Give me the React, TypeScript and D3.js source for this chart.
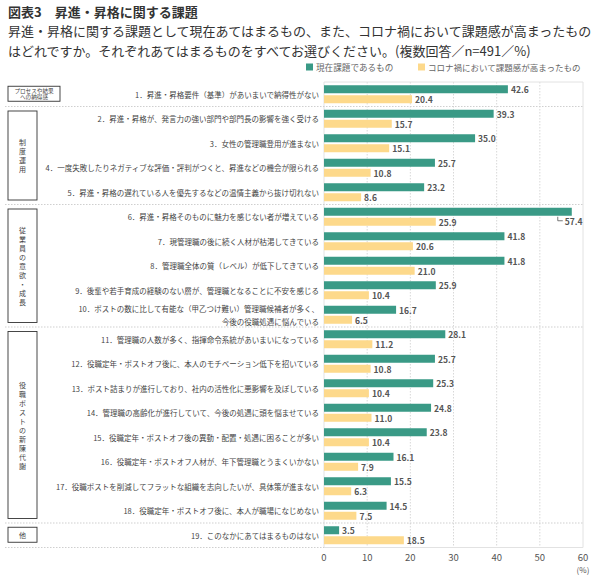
import React from "react";
import * as d3 from "d3";

const titleText = "図表3　昇進・昇格に関する課題";
const subtitleLines = [
  "昇進・昇格に関する課題として現在あてはまるもの、また、コロナ禍において課題感が高まったもの",
  "はどれですか。それぞれあてはまるものをすべてお選びください。(複数回答／n=491／%)",
];
const seriesNames = ["現在課題であるもの", "コロナ禍において課題感が高まったもの"];
const categories = [
  "1．昇進・昇格要件（基準）があいまいで納得性がない",
  "2．昇進・昇格が、発言力の強い部門や部門長の影響を強く受ける",
  "3．女性の管理職登用が進まない",
  "4．一度失敗したりネガティブな評価・評判がつくと、昇進などの機会が限られる",
  "5．昇進・昇格の遅れている人を優先するなどの温情主義から抜け切れない",
  "6．昇進・昇格そのものに魅力を感じない者が増えている",
  "7．現管理職の後に続く人材が枯渇してきている",
  "8．管理職全体の質（レベル）が低下してきている",
  "9．後輩や若手育成の経験のない層が、管理職となることに不安を感じる",
  "10．ポストの数に比して有能な（甲乙つけ難い）管理職候補者が多く、\n今後の役職処遇に悩んでいる",
  "11．管理職の人数が多く、指揮命令系統があいまいになっている",
  "12．役職定年・ポストオフ後に、本人のモチベーション低下を招いている",
  "13．ポスト詰まりが進行しており、社内の活性化に悪影響を及ぼしている",
  "14．管理職の高齢化が進行していて、今後の処遇に頭を悩ませている",
  "15．役職定年・ポストオフ後の異動・配置・処遇に困ることが多い",
  "16．役職定年・ポストオフ人材が、年下管理職とうまくいかない",
  "17．役職ポストを削減してフラットな組織を志向したいが、具体策が進まない",
  "18．役職定年・ポストオフ後に、本人が職場になじめない",
  "19．このなかにあてはまるものはない",
];
const currentValues = [42.6, 39.3, 35.0, 25.7, 23.2, 57.4, 41.8, 41.8, 25.9, 16.7, 28.1, 25.7, 25.3, 24.8, 23.8, 16.1, 15.5, 14.5, 3.5];
const coronaValues = [20.4, 15.7, 15.1, 10.8, 8.6, 25.9, 20.6, 21.0, 10.4, 6.5, 11.2, 10.8, 10.4, 11.0, 10.4, 7.9, 6.3, 7.5, 18.5];
const groupNames = ["プロセスや結果\nへの納得感", "制度運用", "従業員の意欲・成長", "役職ポストの新陳代謝", "他"];
const groupSizes = [1, 4, 5, 8, 1];
const groupVertical = [false, true, true, true, false];
const xTicks = [0, 10, 20, 30, 40, 50, 60];

const COLORS = ["#3a9a86", "#fdd98b"];
const FONT = "'Noto Sans CJK JP', 'Noto Sans', sans-serif";

export default function App() {
  const W = 600, H = 580;
  const plotLeft = 324, plotRight = 583, plotTop = 82, plotBottom = 547.5;
  const x = d3.scaleLinear().domain([0, 60]).range([plotLeft, plotRight]);
  const y = d3.scaleBand<number>().domain(d3.range(categories.length)).range([plotTop, plotBottom]);
  const step = y.bandwidth();
  const keys = [0, 1];
  const ySub = d3.scaleBand<number>().domain(keys).range([3.25, step - 3.25]).paddingInner(0.2);
  const series = [currentValues, coronaValues];

  const starts: number[] = [];
  let acc = 0;
  groupSizes.forEach((s) => { starts.push(acc); acc += s; });
  const boundaries = groupSizes.slice(0, -1).map((_, i) => starts[i] + groupSizes[i]);

  return (
    <svg width={W} height={H} style={{ position: "absolute", left: 0, top: 0, background: "#fff" }} fontFamily={FONT}>
      <text x={8} y={17} fontSize={13} fontWeight="bold" fill="#333">{titleText}</text>
      {subtitleLines.map((t, i) => (
        <text key={i} x={8} y={36 + i * 19.5} fontSize={13} fill="#333">{t}</text>
      ))}
      {/* legend */}
      <rect x={306} y={63.5} width={7} height={7} fill={COLORS[0]} />
      <text x={316} y={70.5} fontSize={8.6} fill="#666">{seriesNames[0]}</text>
      <rect x={418} y={63.5} width={7} height={7} fill={COLORS[1]} />
      <text x={428} y={70.5} fontSize={8.5} fill="#666">{seriesNames[1]}</text>

      {/* grid */}
      {xTicks.slice(1, -1).map((t) => (
        <line key={t} x1={x(t)} x2={x(t)} y1={plotTop} y2={plotBottom} stroke="#d8d8d8" strokeDasharray="1.5,1.5" />
      ))}
      <line x1={plotLeft} x2={plotRight} y1={plotTop} y2={plotTop} stroke="#e2e2e2" />
      <line x1={plotRight} x2={plotRight} y1={plotTop} y2={plotBottom} stroke="#e2e2e2" />
      <line x1={plotLeft} x2={plotLeft} y1={plotTop} y2={plotBottom} stroke="#e2e2e2" />
      {boundaries.map((b) => (
        <line key={b} x1={5} x2={plotRight} y1={y(b)!} y2={y(b)!} stroke="#cfcfcf" strokeDasharray="1.5,1.5" />
      ))}
      <line x1={5} x2={plotLeft} y1={plotBottom} y2={plotBottom} stroke="#cfcfcf" strokeDasharray="1.5,1.5" />
      <line x1={plotLeft} x2={plotRight} y1={plotBottom} y2={plotBottom} stroke="#e2e2e2" />

      {/* group boxes */}
      {groupNames.map((g, i) => {
        const top = y(starts[i])!;
        const bottom = y(starts[i] + groupSizes[i] - 1)! + step;
        const single = groupSizes[i] === 1;
        const bx = 8;
        const bw = groupVertical[i] ? 29 : (g.includes("\n") ? 52 : 29);
        const by = single ? (top + bottom) / 2 - 8 : top + 4.5;
        const bh = single ? 15 : bottom - top - 9;
        const cx = bx + bw / 2;
        const cy = by + bh / 2;
        let content;
        if (groupVertical[i]) {
          const chars = Array.from(g);
          const cs = 9;
          content = chars.map((c, k) => (
            <text key={k} x={cx} y={cy + (k - (chars.length - 1) / 2) * cs} fontSize={7} fill="#444" textAnchor="middle" dominantBaseline="central">{c}</text>
          ));
        } else {
          const lines = g.split("\n");
          const fs = lines.length > 1 ? 5.6 : 7;
          content = lines.map((l, k) => (
            <text key={k} x={cx} y={cy + (k - (lines.length - 1) / 2) * 6.5} fontSize={fs} fill="#444" textAnchor="middle" dominantBaseline="central">{l}</text>
          ));
        }
        return (
          <g key={i}>
            <rect x={bx} y={by} width={bw} height={bh} fill="#fff" stroke="#333" strokeWidth={0.9} />
            {content}
          </g>
        );
      })}

      {/* category labels */}
      {categories.map((c, i) => {
        const lines = c.split("\n");
        const cy = y(i)! + step / 2;
        return lines.map((l, k) => (
          <text key={`${i}-${k}`} x={319} y={cy + (k - (lines.length - 1) / 2) * 13} fontSize={7.5} fill="#444" textAnchor="end" dominantBaseline="central">{l}</text>
        ));
      })}

      {/* bars */}
      {series.map((vals, s) => (
        <g key={s}>
          {vals.map((v, i) => {
            const by = y(i)! + ySub(s)!;
            const bh = ySub.bandwidth();
            return <rect key={i} x={x(0)} y={by} width={x(v) - x(0)} height={bh} fill={COLORS[s]} />;
          })}
        </g>
      ))}
      {/* value labels */}
      {series.map((vals, s) => (
        <g key={`l${s}`}>
          {vals.map((v, i) => {
            const by = y(i)! + ySub(s)!;
            const bh = ySub.bandwidth();
            const label = v.toFixed(1);
            if (x(v) + 22 > plotRight) {
              const lx = x(v) - 14;
              const ly = by + bh + 5;
              return (
                <g key={i}>
                  <path d={`M${lx},${by + bh + 1}V${ly}H${lx + 5}`} fill="none" stroke="#555" strokeWidth={0.8} />
                  <text x={lx + 7} y={ly} fontSize={8.5} fill="#555" fontWeight="bold" dominantBaseline="central">{label}</text>
                </g>
              );
            }
            return (
              <text key={i} x={x(v) + 3} y={by + bh / 2} fontSize={8.5} fill="#555" fontWeight="bold" dominantBaseline="central">{label}</text>
            );
          })}
        </g>
      ))}

      {/* x axis */}
      {xTicks.map((t) => (
        <text key={t} x={x(t)} y={557} fontSize={9.5} fill="#555" textAnchor="middle" dominantBaseline="central">{t}</text>
      ))}
      <text x={x(60)} y={569} fontSize={8} fill="#555" textAnchor="middle" dominantBaseline="central">(%)</text>
    </svg>
  );
}
